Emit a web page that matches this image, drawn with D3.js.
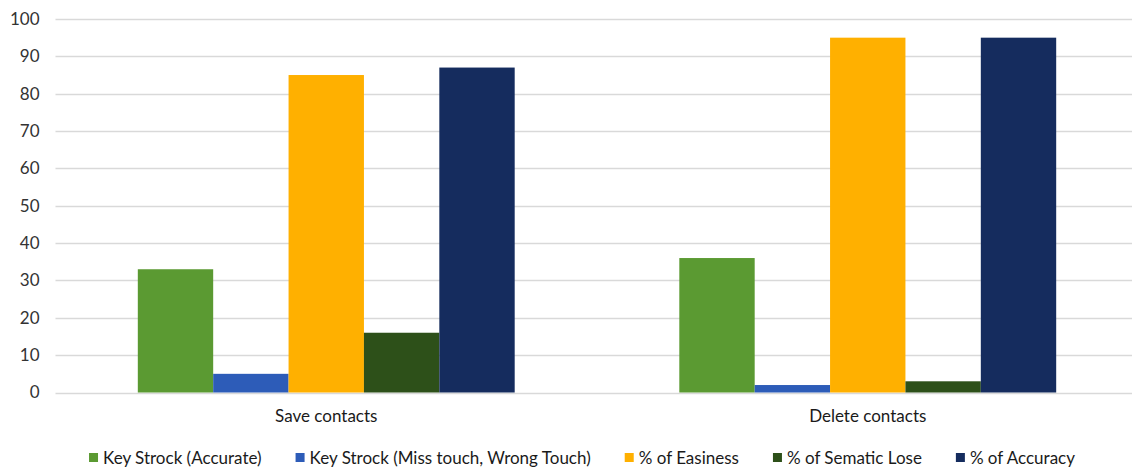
<!DOCTYPE html>
<html>
<head>
<meta charset="utf-8">
<script src="https://cdn.jsdelivr.net/npm/d3@7"></script>
<style>
  html, body { margin: 0; padding: 0; background: #fff; }
  svg { display: block; font-family: Lato, "Open Sans", sans-serif; }
</style>
</head>
<body>
<svg id="chart" width="1132" height="469"></svg>
<script>
// Task categories along the x axis
const categories = ["Save contacts", "Delete contacts"];

// Series names shown in the legend
const seriesNames = [
  "Key Strock (Accurate)",
  "Key Strock (Miss touch, Wrong Touch)",
  "% of Easiness",
  "% of Sematic Lose",
  "% of Accuracy"
];

// Values per series, one entry per category
const keyStrockAccurate = [33, 36];
const keyStrockMiss     = [5, 2];
const easiness          = [85, 95];
const sematicLose       = [16, 3];
const accuracy          = [87, 95];

const seriesColors = ["#5b9a32", "#2d5cb8", "#ffb000", "#2d5019", "#152c5e"];

const yTicks = [0, 10, 20, 30, 40, 50, 60, 70, 80, 90, 100];

const seriesValues = [keyStrockAccurate, keyStrockMiss, easiness, sematicLose, accuracy];

const svg = d3.select("#chart");

const plot = { left: 55.5, right: 1138.5, top: 19, bottom: 392.5 };
const fontSize = 17;

const y = d3.scaleLinear().domain([0, 100]).range([plot.bottom, plot.top]);

const x0 = d3.scaleBand()
  .domain(categories)
  .range([plot.left, plot.right])
  .paddingInner(0.304)
  .paddingOuter(0.152);

const x1 = d3.scaleBand()
  .domain(d3.range(seriesNames.length))
  .range([0, x0.bandwidth()])
  .padding(0);

// Horizontal gridlines
svg.append("g")
  .selectAll("line")
  .data(yTicks)
  .join("line")
  .attr("x1", plot.left)
  .attr("x2", plot.right)
  .attr("y1", d => Math.round(y(d)) + 0.5)
  .attr("y2", d => Math.round(y(d)) + 0.5)
  .attr("stroke", "#d9d9d9")
  .attr("stroke-width", 1.3);

// Y axis labels
const yAxis = d3.axisLeft(y).tickValues(yTicks).tickSize(0).tickPadding(0);
const yg = svg.append("g")
  .attr("transform", `translate(${plot.left - 16},0)`)
  .call(yAxis);
yg.select(".domain").remove();
yg.selectAll("text")
  .attr("font-size", fontSize)
  .attr("font-family", "Lato, sans-serif")
  .attr("fill", "#333");

// Bars
const groups = svg.append("g")
  .selectAll("g")
  .data(categories)
  .join("g")
  .attr("transform", d => `translate(${x0(d)},0)`);

groups.selectAll("rect")
  .data((c, ci) => seriesValues.map((vals, si) => ({ si, v: vals[ci] })))
  .join("rect")
  .attr("x", d => x1(d.si))
  .attr("width", x1.bandwidth())
  .attr("y", d => y(d.v))
  .attr("height", d => y(0) - y(d.v))
  .attr("fill", d => seriesColors[d.si]);

// Category labels
const xAxis = d3.axisBottom(x0).tickSize(0).tickPadding(0);
const xg = svg.append("g")
  .attr("transform", `translate(0,${plot.bottom + 17})`)
  .call(xAxis);
xg.select(".domain").remove();
xg.selectAll("text")
  .attr("font-size", fontSize)
  .attr("font-family", "Lato, sans-serif")
  .attr("fill", "#1a1a1a");

// Legend, laid out from measured text widths and centred under the plot
const legend = svg.append("g").attr("transform", "translate(0,464)");
const sw = 9, swGap = 5, itemGap = 34;
const items = legend.selectAll("g")
  .data(seriesNames)
  .join("g");
items.append("rect")
  .attr("width", sw)
  .attr("height", sw)
  .attr("y", -11)
  .attr("fill", (d, i) => seriesColors[i]);
items.append("text")
  .attr("x", sw + swGap)
  .attr("font-size", fontSize)
  .attr("font-family", "Lato, sans-serif")
  .attr("fill", "#1a1a1a")
  .text(d => d);

const widths = [];
items.each(function () {
  widths.push(sw + swGap + this.querySelector("text").getComputedTextLength());
});
const total = d3.sum(widths) + itemGap * (widths.length - 1);
const legendCenter = 582;
let cursor = legendCenter - total / 2;
items.attr("transform", (d, i) => {
  const t = `translate(${cursor},0)`;
  cursor += widths[i] + itemGap;
  return t;
});
</script>
</body>
</html>
